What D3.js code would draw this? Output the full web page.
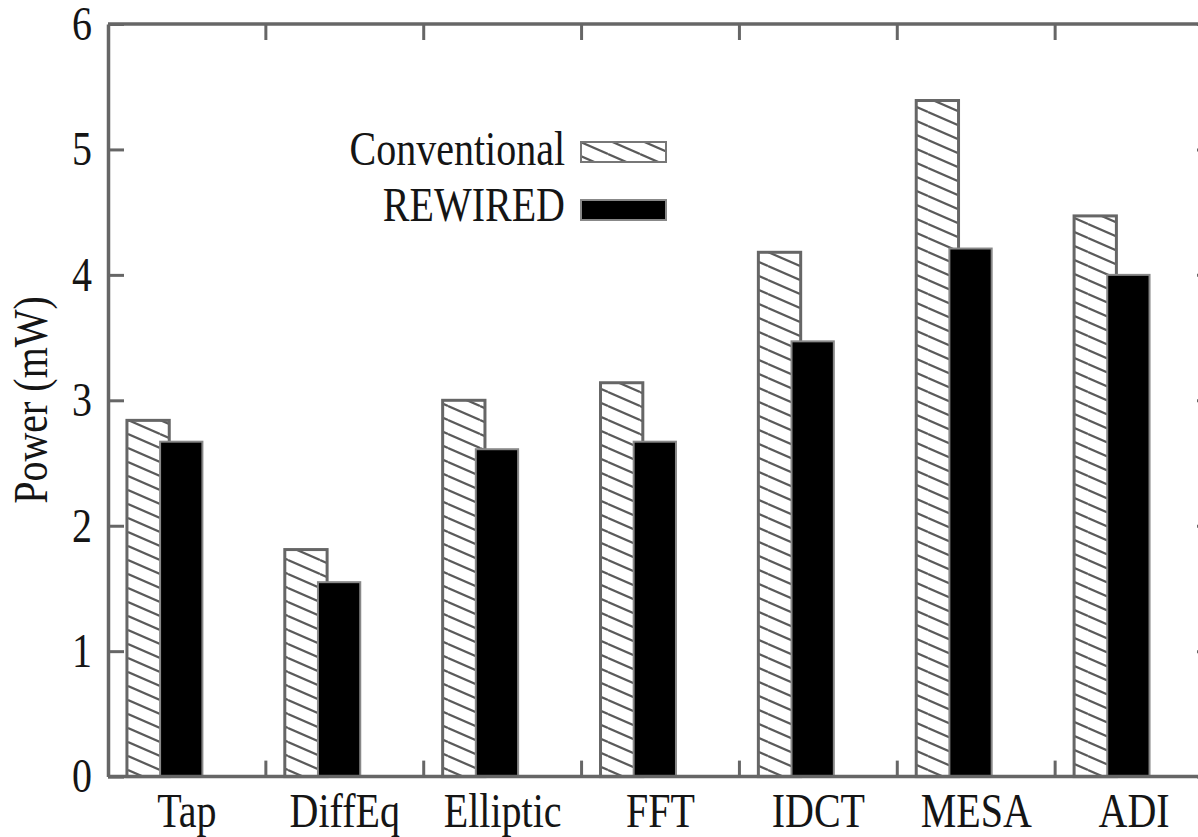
<!DOCTYPE html>
<html>
<head>
<meta charset="utf-8">
<script src="https://cdn.jsdelivr.net/npm/d3@7"></script>
<style>
  body { margin: 0; background: #fff; }
  text { font-family: "Liberation Serif", "Times New Roman", serif; fill: #151515; }
</style>
</head>
<body>
<svg id="chart" width="1198" height="837"></svg>
<script>
// data
const categories = ['Tap', 'DiffEq', 'Elliptic', 'FFT', 'IDCT', 'MESA', 'ADI'];
const conventional = [2.84, 1.81, 3.0, 3.14, 4.18, 5.39, 4.47];
const rewired = [2.67, 1.55, 2.61, 2.67, 3.47, 4.21, 4.0];
const yTicks = [0, 1, 2, 3, 4, 5, 6];
const seriesNames = ['Conventional', 'REWIRED'];

const svg = d3.select('#chart');
const axisColor = '#666';
const fontSize = 40;
const stretch = 'scale(1,1.2)';

const plotLeft = 108, plotRight = 1213, plotTop = 24, plotBottom = 776.6;

const x = d3.scaleBand().domain(categories).range([plotLeft, plotRight]).padding(0);
const y = d3.scaleLinear().domain([0, 6]).range([plotBottom, plotTop]);
const bw = x.bandwidth();

// hatch pattern
const defs = svg.append('defs');
const pat = defs.append('pattern')
  .attr('id', 'hatch')
  .attr('patternUnits', 'userSpaceOnUse')
  .attr('width', 32)
  .attr('height', 14);
pat.append('rect').attr('width', 32).attr('height', 14).attr('fill', '#fff');
[[0, 0, 32, 14], [0, -14, 32, 0], [0, 14, 32, 28]].forEach(([x1, y1, x2, y2]) => {
  pat.append('line')
    .attr('x1', x1).attr('y1', y1).attr('x2', x2).attr('y2', y2)
    .attr('stroke', '#5a5a5a')
    .attr('stroke-width', 2.2);
});

const graph = svg.append('g');

// bars
const barW = bw * 0.268;
const offConv = bw * 0.12;
const offRew = bw * 0.33;

graph.selectAll('.conv')
  .data(conventional)
  .enter()
  .append('rect')
  .attr('class', 'conv')
  .attr('x', (d, i) => x(categories[i]) + offConv)
  .attr('y', (d) => y(d))
  .attr('width', barW)
  .attr('height', (d) => y(0) - y(d))
  .attr('fill', 'url(#hatch)')
  .attr('stroke', '#666')
  .attr('stroke-width', 3);

graph.selectAll('.rew')
  .data(rewired)
  .enter()
  .append('rect')
  .attr('class', 'rew')
  .attr('x', (d, i) => x(categories[i]) + offRew)
  .attr('y', (d) => y(d))
  .attr('width', barW)
  .attr('height', (d) => y(0) - y(d))
  .attr('fill', '#000')
  .attr('stroke', '#888')
  .attr('stroke-width', 2);

// y axes, ticks pointing inward
const yAxisL = graph.append('g')
  .attr('transform', `translate(${plotLeft},0)`)
  .call(d3.axisLeft(y).tickValues(yTicks).tickFormat(d3.format('d'))
    .tickSizeInner(-16).tickSizeOuter(0).tickPadding(16));
const yAxisR = graph.append('g')
  .attr('transform', `translate(${plotRight},0)`)
  .call(d3.axisRight(y).tickValues(yTicks).tickSizeInner(-16).tickSizeOuter(0).tickFormat(''));

[yAxisL, yAxisR].forEach((g) => {
  g.select('.domain').attr('stroke', axisColor).attr('stroke-width', 3.5);
  g.selectAll('.tick line').attr('stroke', axisColor).attr('stroke-width', 3);
});
yAxisL.selectAll('.tick text')
  .attr('font-size', fontSize)
  .attr('font-family', 'Liberation Serif')
  .attr('fill', '#151515')
  .attr('transform', stretch);

// top and bottom lines
graph.append('line')
  .attr('x1', plotLeft).attr('x2', plotRight)
  .attr('y1', plotTop).attr('y2', plotTop)
  .attr('stroke', axisColor).attr('stroke-width', 3.5);
graph.append('line')
  .attr('x1', plotLeft).attr('x2', plotRight)
  .attr('y1', plotBottom).attr('y2', plotBottom)
  .attr('stroke', axisColor).attr('stroke-width', 3.5);

// group boundary ticks, top and bottom
const bounds = categories.slice(1).map((c) => x(c));
bounds.forEach((bx) => {
  graph.append('line')
    .attr('x1', bx).attr('x2', bx)
    .attr('y1', plotTop).attr('y2', plotTop + 16)
    .attr('stroke', axisColor).attr('stroke-width', 3);
  graph.append('line')
    .attr('x1', bx).attr('x2', bx)
    .attr('y1', plotBottom).attr('y2', plotBottom - 16)
    .attr('stroke', axisColor).attr('stroke-width', 3);
});

// category labels
graph.selectAll('.cat')
  .data(categories)
  .enter()
  .append('text')
  .attr('class', 'cat')
  .attr('text-anchor', 'middle')
  .attr('font-size', fontSize)
  .attr('transform', (d) => `translate(${x(d) + bw / 2},827) ${stretch}`)
  .text((d) => d);

// y axis title
svg.append('text')
  .attr('text-anchor', 'middle')
  .attr('font-size', fontSize)
  .attr('transform', `translate(47,400) rotate(-90) ${stretch}`)
  .text('Power (mW)');

// legend
const legend = svg.append('g');
const legendRows = [
  { name: seriesNames[0], base: 165, fill: 'url(#hatch)', stroke: '#777', sy: 142 },
  { name: seriesNames[1], base: 221, fill: '#000', stroke: '#888', sy: 200 }
];
legendRows.forEach((r) => {
  legend.append('text')
    .attr('text-anchor', 'end')
    .attr('font-size', fontSize)
    .attr('transform', `translate(565,${r.base}) ${stretch}`)
    .text(r.name);
  legend.append('rect')
    .attr('x', 581).attr('y', r.sy)
    .attr('width', 85).attr('height', 20)
    .attr('fill', r.fill)
    .attr('stroke', r.stroke)
    .attr('stroke-width', 2);
});
</script>
</body>
</html>
